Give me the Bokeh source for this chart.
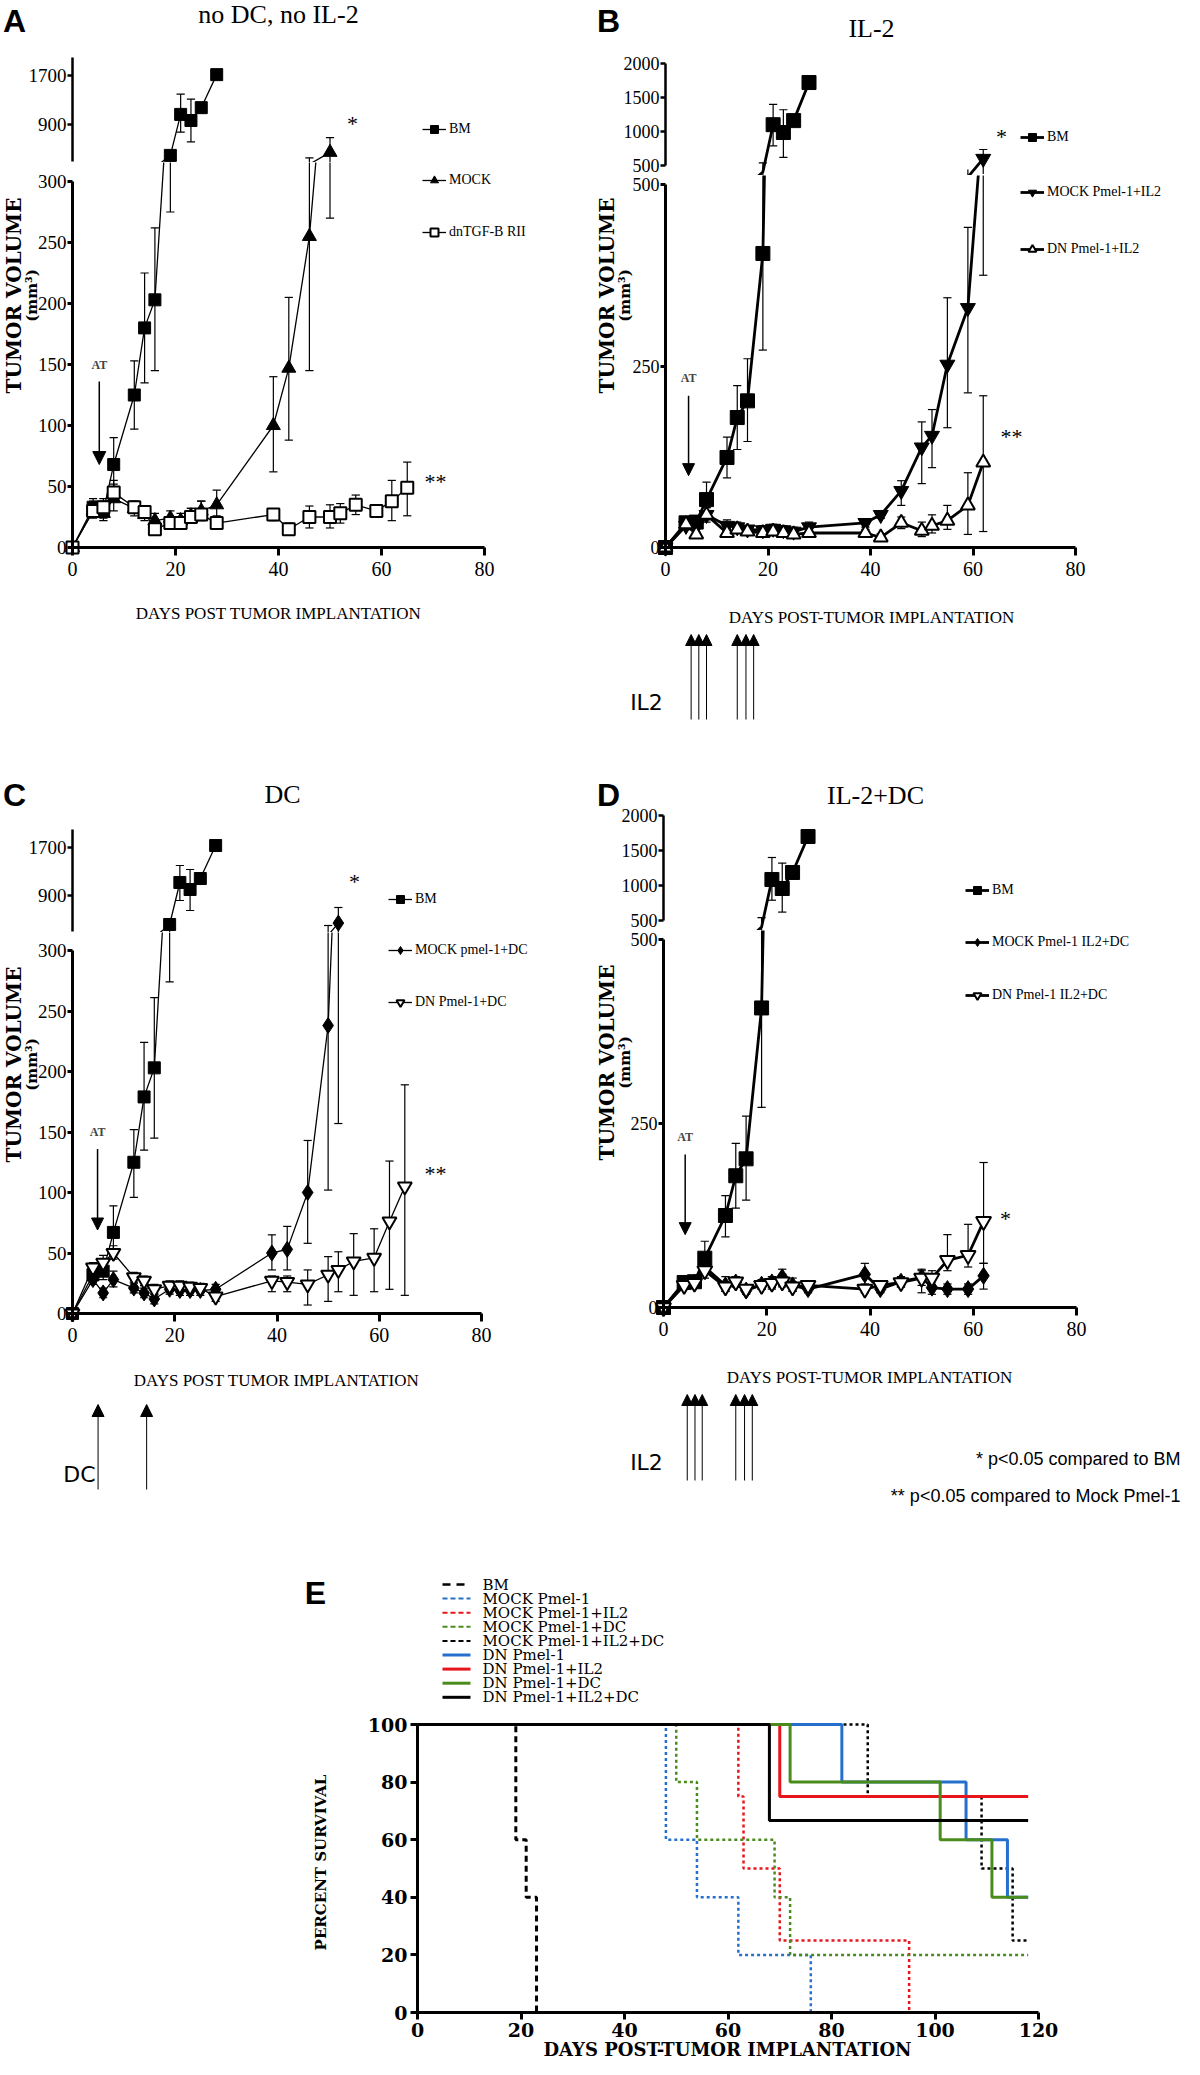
import numpy as np
from bokeh.plotting import figure
from bokeh.models import (Range1d, FixedTicker, Label, Legend, LegendItem, Arrow, NormalHead,
                          LinearAxis, ColumnDataSource)
from bokeh.layouts import row, column
from bokeh.embed import file_html
from bokeh.resources import INLINE
from bokeh.core.properties import value

SERIF = "Liberation Serif"
SANS = "Liberation Sans"
WSERIF = "DejaVu Serif"
WSANS = "DejaVu Sans"

# ===================== DATA =====================
X_TICKS = [0, 20, 40, 60, 80]
TICKS_UP_AC = [900, 1700]
TICKS_LO_AC = [0, 50, 100, 150, 200, 250, 300]
TICKS_UP_BD = [500, 1000, 1500, 2000]
TICKS_LO_BD = [0, 250, 500]

# Panel A: no DC, no IL-2
A_BM_DAYS = [0, 4, 6, 8, 12, 14, 16, 19, 21, 23, 25, 28]
A_BM_VOL = [0, 33, 30, 68, 125, 180, 203, 400, 1070, 970, 1180, 1720]
A_BM_HI = [0, 40, 38, 90, 153, 225, 262, 400, 1400, 1320, 1180, 1720]
A_BM_LO = [0, 28, 24, 50, 97, 135, 145, 275, 780, 620, 1180, 1720]
A_MOCK_DAYS = [0, 4, 6, 8, 12, 14, 16, 19, 21, 23, 25, 28, 39, 42, 46, 50]
A_MOCK_VOL = [0, 30, 28, 40, 32, 27, 22, 24, 22, 26, 30, 35, 100, 147, 255, 450]
A_MOCK_HI = [0, 38, 35, 52, 38, 32, 28, 30, 28, 32, 38, 47, 140, 205, 360, 690]
A_MOCK_LO = [0, 24, 22, 30, 26, 22, 17, 18, 17, 20, 23, 25, 62, 88, 145, 270]
A_DN_DAYS = [0, 4, 6, 8, 12, 14, 16, 19, 21, 23, 25, 28, 39, 42, 46, 50, 52, 55, 59, 62, 65]
A_DN_VOL = [0, 30, 33, 45, 33, 29, 15, 20, 20, 25, 27, 20, 27, 15, 25, 25, 28, 35, 30, 38, 49]
A_DN_HI = [0, 36, 40, 55, 37, 33, 20, 25, 25, 32, 38, 26, 31, 20, 34, 35, 36, 43, 34, 55, 70]
A_DN_LO = [0, 25, 27, 38, 28, 25, 11, 16, 16, 20, 22, 16, 22, 11, 16, 16, 20, 27, 27, 22, 26]

# Panel B: IL-2
B_BM_DAYS = [0, 4, 6, 8, 12, 14, 16, 19, 21, 23, 25, 28]
B_BM_VOL = [0, 34, 35, 66, 124, 179, 202, 405, 1100, 985, 1160, 1720]
B_BM_HI = [0, 40, 41, 90, 152, 223, 260, 540, 1400, 1320, 1160, 1720]
B_BM_LO = [0, 28, 30, 50, 96, 135, 146, 272, 790, 620, 1160, 1720]
B_MOCK_DAYS = [0, 4, 6, 8, 12, 14, 16, 19, 21, 23, 25, 28, 39, 42, 46, 50, 52, 55, 59, 62]
B_MOCK_VOL = [0, 30, 35, 45, 30, 28, 25, 24, 26, 24, 22, 28, 34, 45, 78, 138, 154, 252, 330, 600]
B_MOCK_HI = [0, 36, 40, 55, 38, 35, 30, 30, 32, 30, 28, 35, 38, 50, 92, 173, 190, 344, 441, 735]
B_MOCK_LO = [0, 25, 28, 35, 22, 20, 18, 18, 20, 18, 15, 22, 28, 40, 58, 88, 110, 165, 213, 375]
B_DN_DAYS = [0, 4, 6, 8, 12, 14, 16, 19, 21, 23, 25, 28, 39, 42, 46, 50, 52, 55, 59, 62]
B_DN_VOL = [0, 32, 18, 45, 20, 25, 22, 20, 22, 20, 18, 20, 20, 14, 34, 23, 30, 37, 58, 117]
B_DN_HI = [0, 38, 22, 55, 25, 30, 28, 25, 28, 25, 24, 26, 25, 19, 42, 35, 45, 58, 103, 209]
B_DN_LO = [0, 26, 14, 38, 15, 20, 17, 15, 17, 15, 13, 14, 15, 10, 26, 15, 20, 25, 18, 22]

# Panel C: DC
C_BM_DAYS = [0, 4, 6, 8, 12, 14, 16, 19, 21, 23, 25, 28]
C_BM_VOL = [0, 32, 35, 67, 125, 179, 203, 417, 1117, 1000, 1183, 1733]
C_BM_HI = [0, 38, 42, 89, 152, 224, 261, 417, 1400, 1333, 1183, 1733]
C_BM_LO = [0, 27, 28, 50, 96, 135, 145, 274, 817, 650, 1183, 1733]
C_MOCK_DAYS = [0, 4, 6, 8, 12, 14, 16, 19, 21, 23, 25, 28, 39, 42, 46, 50, 52]
C_MOCK_VOL = [0, 28, 17, 28, 21, 17, 12, 20, 19, 19, 19, 20, 50, 53, 100, 238, 440]
C_MOCK_HI = [0, 32, 21, 35, 25, 21, 16, 24, 23, 23, 23, 24, 65, 72, 143, 400, 700]
C_MOCK_LO = [0, 24, 13, 22, 17, 13, 8, 16, 15, 15, 15, 16, 36, 36, 58, 102, 157]
C_DN_DAYS = [0, 4, 6, 8, 12, 14, 16, 19, 21, 23, 25, 28, 39, 42, 46, 50, 52, 55, 59, 62, 65]
C_DN_VOL = [0, 38, 42, 50, 30, 27, 20, 23, 23, 22, 21, 14, 27, 26, 24, 32, 36, 43, 46, 76, 105]
C_DN_HI = [0, 42, 48, 56, 34, 31, 24, 27, 27, 26, 25, 18, 31, 31, 36, 47, 51, 66, 70, 126, 189]
C_DN_LO = [0, 34, 36, 45, 26, 23, 16, 19, 19, 18, 17, 10, 18, 18, 7, 10, 18, 15, 18, 20, 15]

# Panel D: IL-2+DC
D_BM_DAYS = [0, 4, 6, 8, 12, 14, 16, 19, 21, 23, 25, 28]
D_BM_VOL = [0, 34, 35, 67, 125, 179, 202, 407, 1086, 957, 1186, 1700]
D_BM_HI = [0, 40, 41, 90, 152, 223, 260, 540, 1400, 1320, 1186, 1700]
D_BM_LO = [0, 28, 30, 50, 96, 135, 146, 272, 790, 620, 1186, 1700]
D_MOCK_DAYS = [0, 4, 6, 8, 12, 14, 16, 19, 21, 23, 25, 28, 39, 42, 46, 50, 52, 55, 59, 62]
D_MOCK_VOL = [0, 32, 34, 55, 30, 34, 23, 31, 34, 41, 30, 25, 45, 25, 35, 41, 27, 25, 25, 43]
D_MOCK_HI = [0, 38, 40, 70, 42, 42, 30, 38, 42, 52, 40, 30, 60, 30, 42, 52, 35, 32, 32, 60]
D_MOCK_LO = [0, 28, 30, 45, 22, 28, 18, 25, 25, 30, 22, 20, 32, 20, 28, 20, 18, 18, 18, 25]
D_DN_DAYS = [0, 4, 6, 8, 12, 14, 16, 19, 21, 23, 25, 28, 39, 42, 46, 50, 52, 55, 59, 62]
D_DN_VOL = [0, 30, 33, 50, 28, 35, 25, 30, 33, 35, 28, 30, 25, 30, 34, 40, 40, 64, 71, 117]
D_DN_HI = [0, 36, 38, 65, 35, 42, 30, 36, 40, 45, 35, 36, 30, 36, 40, 50, 50, 99, 113, 197]
D_DN_LO = [0, 25, 28, 40, 22, 28, 20, 25, 27, 28, 22, 25, 20, 25, 28, 30, 30, 50, 55, 60]

# Treatment days (annotation arrows)
IL2_DAYS_B = [5, 6.5, 8, 14, 15.7, 17.2]
IL2_DAYS_D = [4.6, 6.1, 7.5, 14, 15.7, 17.2]
DC_DAYS_C = [5, 14.5]

# Panel E: Kaplan-Meier survival
E_NAMES = ["BM", "MOCK Pmel-1", "MOCK Pmel-1+IL2", "MOCK Pmel-1+DC", "MOCK Pmel-1+IL2+DC",
           "DN Pmel-1", "DN Pmel-1+IL2", "DN Pmel-1+DC", "DN Pmel-1+IL2+DC"]
E_TIMES = [[0, 19, 21, 23],
           [0, 48, 54, 62, 76],
           [0, 62, 63, 70, 95],
           [0, 50, 54, 69, 72, 118],
           [0, 87, 109, 115, 118],
           [0, 82, 106, 114, 118],
           [0, 70, 118],
           [0, 72, 101, 111, 118],
           [0, 68, 118]]
E_SURV = [[100, 60, 40, 0],
          [100, 60, 40, 20, 0],
          [100, 75, 50, 25, 0],
          [100, 80, 60, 40, 20, 20],
          [100, 75, 50, 25, 25],
          [100, 80, 60, 40, 40],
          [100, 75, 75],
          [100, 80, 60, 40, 40],
          [100, 66.7, 66.7]]
E_TICKS_X = [0, 20, 40, 60, 80, 100, 120]
E_TICKS_Y = [0, 20, 40, 60, 80, 100]

# ===================== STYLES =====================
BLUE, RED, GREEN, BLACK = "#2470cc", "#e8141c", "#4a8c1c", "#000000"
E_STYLES = [(BLACK, "6 4", 3), (BLUE, "3 3", 2.5), (RED, "3 3", 2.5), (GREEN, "3 3", 2.5),
            (BLACK, "3 3", 2.5), (BLUE, "solid", 3), (RED, "solid", 3), (GREEN, "solid", 3),
            (BLACK, "solid", 3)]
E_LEG_STYLES = [(BLACK, "8 6", 2.5), (BLUE, "5 3", 2), (RED, "5 3", 2), (GREEN, "5 3", 2),
                (BLACK, "5 3", 2), (BLUE, "solid", 3), (RED, "solid", 3), (GREEN, "solid", 3),
                (BLACK, "solid", 3)]


class Geo:
    """Canvas placement (page px) plus two anchor pixels per axis mapping to data values."""
    def __init__(self, canvas, xmap, ymap):
        self.cl, self.ct, self.cr, self.cb = canvas
        self.xm, self.ym = xmap, ymap

    def dx(self, rx):
        p0, v0, p1, v1 = self.xm
        return v0 + (rx - p0) / (p1 - p0) * (v1 - v0)

    def dy(self, ry):
        p0, v0, p1, v1 = self.ym
        return v0 + (ry - p0) / (p1 - p0) * (v1 - v0)

    def d(self, rx, ry):
        return self.dx(rx), self.dy(ry)


def mkfig(g):
    p = figure(width=g.cr - g.cl, height=g.cb - g.ct,
               x_range=Range1d(g.dx(g.cl), g.dx(g.cr)),
               y_range=Range1d(g.dy(g.cb), g.dy(g.ct)),
               min_border=0, min_border_left=0, min_border_right=0,
               min_border_top=0, min_border_bottom=0,
               x_axis_location=None, y_axis_location=None,
               output_backend="svg", toolbar_location=None, tools="")
    p.outline_line_color = None
    p.grid.visible = False
    p.grid.grid_line_color = None
    return p


def style_axis(ax, size, lw=3, tick_out=6, standoff=2, font=SERIF, bold=False):
    ax.axis_line_width = lw
    ax.axis_line_color = "black"
    ax.major_tick_line_width = lw
    ax.major_tick_line_color = "black"
    ax.major_tick_out = tick_out
    ax.major_tick_in = 0
    ax.minor_tick_line_color = None
    ax.major_label_standoff = standoff
    ax.major_label_text_font = font
    ax.major_label_text_font_size = f"{size}px"
    ax.major_label_text_font_style = "bold" if bold else "normal"
    ax.major_label_text_color = "black"


def add_axis(p, side, bounds, ticks, size, lw, tick_out, standoff, font=SERIF, bold=False):
    ax = LinearAxis(fixed_location=0, bounds=bounds, ticker=FixedTicker(ticks=ticks))
    style_axis(ax, size, lw=lw, tick_out=tick_out, standoff=standoff, font=font, bold=bold)
    p.add_layout(ax, side)
    return ax


def label(p, g, rx, ry, text, size, font=SERIF, style="normal", align="center", angle=0.0):
    x, y = g.d(rx, ry)
    p.add_layout(Label(x=x, y=y, text=text, text_font=font, text_font_size=f"{size}px",
                       text_font_style=style, text_align=align, text_baseline="middle",
                       angle=angle, text_color="black"))


def legend_item(p, g, gx, cy, text, rends, size=14):
    lg = Legend(items=[LegendItem(label=value(text), renderers=rends)],
                location=(gx - 12 - g.cl, g.cb - cy - 10),
                glyph_width=24, glyph_height=20, label_height=20, label_width=5,
                label_standoff=3, padding=0, spacing=0, margin=0,
                border_line_color=None, background_fill_alpha=0.0,
                label_text_font=SERIF, label_text_font_size=f"{size}px",
                label_text_color="black")
    p.add_layout(lg)


def draw_series(p, days, vol, hi, lo, marker, fill, size, lw, part, brk, cap=0.8):
    d = np.asarray(days, float)
    v = np.asarray(vol, float)
    h = np.asarray(hi, float)
    lo_ = np.asarray(lo, float)
    keep = (lambda a: a <= brk) if part == "lower" else (lambda a: a >= brk)
    r_line = p.line(d, v, line_color="black", line_width=lw)
    p.segment(d, lo_, d, h, line_color="black", line_width=1.2)
    for arr in (h, lo_):
        m = keep(arr)
        src = ColumnDataSource(dict(x0=d[m] - cap, x1=d[m] + cap, y=arr[m]))
        p.segment("x0", "y", "x1", "y", source=src, line_color="black", line_width=1.2)
    m = (v <= brk) if part == "lower" else (v > brk)
    r_mark = p.scatter(d[m], v[m], marker=marker, size=size, fill_color=fill,
                       line_color="black", line_width=2 if fill == "white" else 1)
    return [r_line, r_mark]


def tumor_panel(g_up, g_lo, series, brk, top, up_ticks, lo_ticks, lw, ysize):
    pu = mkfig(g_up)
    pl = mkfig(g_lo)
    ru, rl = [], []
    for s in series:
        ru.append(draw_series(pu, *s, lw, "upper", brk))
        rl.append(draw_series(pl, *s, lw, "lower", brk))
    add_axis(pu, "left", (brk, top), up_ticks, ysize, 2.5, 5, 1)
    add_axis(pl, "left", (0, brk), lo_ticks, ysize, 3, 5, 1)
    add_axis(pl, "below", (0, 80), X_TICKS, 20, 3, 8, 6)
    return pu, pl, ru, rl


def add_at(p, day, ty, y0, y1, head):
    p.add_layout(Label(x=day, y=ty, text="AT", text_font=SERIF, text_font_style="bold",
                       text_font_size="12px", text_align="center", text_baseline="middle"))
    p.add_layout(Arrow(x_start=day, y_start=y0, x_end=day, y_end=y1, line_width=1.5,
                       line_color="black",
                       end=NormalHead(size=head, fill_color="black", line_color="black")))


def treat_arrows(p, days, y_bottom, y_tip, head):
    for dd in days:
        p.add_layout(Arrow(x_start=dd, y_start=y_bottom, x_end=dd, y_end=y_tip, line_width=1,
                           line_color="black",
                           end=NormalHead(size=head, fill_color="black", line_color="black")))


def ytitle(p, g, rx1, rx2, cy):
    label(p, g, rx1, cy, "TUMOR VOLUME", 20, font=WSERIF, style="bold", angle=np.pi / 2)
    label(p, g, rx2, cy, "(mm³)", 15, font=WSERIF, style="bold", angle=np.pi / 2)


# ===================== GEOMETRY (page pixels) =====================
gA_up = Geo((8, 8, 600, 170), (80, 0, 492, 80), (169, 300, 65, 2000))
gA_lo = Geo((8, 170, 600, 745), (80, 0, 492, 80), (555, 0, 189, 300))
gB_up = Geo((600, 8, 1192, 183), (673, 0, 1083, 80), (173, 500, 71, 2000))
gB_lo = Geo((600, 183, 1192, 640), (673, 0, 1083, 80), (555, 0, 192, 500))
gB_an = Geo((600, 640, 1192, 745), (673, 0, 1083, 80), (745, 745, 640, 640))
gC_up = Geo((8, 745, 600, 940), (80, 0, 489, 80), (939, 300, 837, 2000))
gC_lo = Geo((8, 940, 600, 1400), (80, 0, 489, 80), (1321, 0, 958, 300))
gC_an = Geo((8, 1400, 600, 1515), (80, 0, 489, 80), (1515, 1515, 1400, 1400))
gD_up = Geo((600, 745, 1192, 938), (671, 0, 1084, 80), (928, 500, 823, 2000))
gD_lo = Geo((600, 938, 1192, 1397), (671, 0, 1084, 80), (1315, 0, 947, 500))
gD_an = Geo((600, 1397, 1192, 1515), (671, 0, 1084, 80), (1515, 1515, 1397, 1397))
gE_leg = Geo((8, 1515, 1192, 1719), (8, 8, 1192, 1192), (1719, 1719, 1515, 1515))
gE = Geo((8, 1719, 1192, 2067), (425, 0, 1046, 120), (2020, 0, 1732, 100))

# ===================== PANEL A =====================
A_series = [(A_BM_DAYS, A_BM_VOL, A_BM_HI, A_BM_LO, "square", "black", 12),
            (A_MOCK_DAYS, A_MOCK_VOL, A_MOCK_HI, A_MOCK_LO, "triangle", "black", 14),
            (A_DN_DAYS, A_DN_VOL, A_DN_HI, A_DN_LO, "square", "white", 12)]
upA, loA, ruA, rlA = tumor_panel(gA_up, gA_lo, A_series, 300, 2000, TICKS_UP_AC, TICKS_LO_AC, 1.3, 19)
label(upA, gA_up, 22, 28, "A", 32, font=SANS, style="bold")
label(upA, gA_up, 286, 22, "no DC, no IL-2", 26)
label(upA, gA_up, 360, 131, "*", 22)
legend_item(upA, gA_up, 442, 137, "BM", ruA[0])
legend_item(loA, gA_lo, 442, 188, "MOCK", rlA[1])
legend_item(loA, gA_lo, 442, 240, "dnTGF-B RII", rlA[2])
ytitle(loA, gA_lo, 21, 39, 303)
label(loA, gA_lo, 443, 489, "**", 22)
label(loA, gA_lo, 286, 621, "DAYS POST TUMOR IMPLANTATION", 17)
add_at(loA, 5.2, 150, 136, 68, 13)

# ===================== PANEL B =====================
B_series = [(B_BM_DAYS, B_BM_VOL, B_BM_HI, B_BM_LO, "square", "black", 14),
            (B_MOCK_DAYS, B_MOCK_VOL, B_MOCK_HI, B_MOCK_LO, "inverted_triangle", "black", 15),
            (B_DN_DAYS, B_DN_VOL, B_DN_HI, B_DN_LO, "triangle", "white", 14)]
upB, loB, ruB, rlB = tumor_panel(gB_up, gB_lo, B_series, 500, 2000, TICKS_UP_BD, TICKS_LO_BD, 2.8, 18)
label(upB, gB_up, 616, 28, "B", 32, font=SANS, style="bold")
label(upB, gB_up, 879, 36, "IL-2", 26)
label(upB, gB_up, 1009, 144, "*", 22)
legend_item(upB, gB_up, 1040, 145, "BM", ruB[0])
legend_item(loB, gB_lo, 1040, 200, "MOCK Pmel-1+IL2", rlB[1])
legend_item(loB, gB_lo, 1040, 257, "DN Pmel-1+IL2", rlB[2])
ytitle(loB, gB_lo, 614, 632, 303)
label(loB, gB_lo, 1019, 444, "**", 22)
label(loB, gB_lo, 879, 625, "DAYS POST-TUMOR IMPLANTATION", 17)
add_at(loB, 4.5, 234, 209, 99, 12)
anB = mkfig(gB_an)
treat_arrows(anB, IL2_DAYS_B, 727, 642, 11)
label(anB, gB_an, 654, 710, "IL2", 22, font=WSANS)

# ===================== PANEL C =====================
C_series = [(C_BM_DAYS, C_BM_VOL, C_BM_HI, C_BM_LO, "square", "black", 12),
            (C_MOCK_DAYS, C_MOCK_VOL, C_MOCK_HI, C_MOCK_LO, "diamond", "black", 16),
            (C_DN_DAYS, C_DN_VOL, C_DN_HI, C_DN_LO, "inverted_triangle", "white", 14)]
upC, loC, ruC, rlC = tumor_panel(gC_up, gC_lo, C_series, 300, 2000, TICKS_UP_AC, TICKS_LO_AC, 1.3, 19)
label(upC, gC_up, 22, 802, "C", 32, font=SANS, style="bold")
label(upC, gC_up, 290, 802, "DC", 26)
label(upC, gC_up, 362, 889, "*", 22)
legend_item(upC, gC_up, 408, 907, "BM", ruC[0])
legend_item(loC, gC_lo, 408, 958, "MOCK pmel-1+DC", rlC[1])
legend_item(loC, gC_lo, 408, 1010, "DN Pmel-1+DC", rlC[2])
ytitle(loC, gC_lo, 21, 39, 1072)
label(loC, gC_lo, 443, 1181, "**", 22)
label(loC, gC_lo, 284, 1388, "DAYS POST TUMOR IMPLANTATION", 17)
add_at(loC, 4.9, 150, 136, 69, 12)
anC = mkfig(gC_an)
treat_arrows(anC, DC_DAYS_C, 1497, 1412, 12)
label(anC, gC_an, 87, 1482, "DC", 22, font=WSANS)

# ===================== PANEL D =====================
D_series = [(D_BM_DAYS, D_BM_VOL, D_BM_HI, D_BM_LO, "square", "black", 14),
            (D_MOCK_DAYS, D_MOCK_VOL, D_MOCK_HI, D_MOCK_LO, "diamond", "black", 17),
            (D_DN_DAYS, D_DN_VOL, D_DN_HI, D_DN_LO, "inverted_triangle", "white", 15)]
upD, loD, ruD, rlD = tumor_panel(gD_up, gD_lo, D_series, 500, 2000, TICKS_UP_BD, TICKS_LO_BD, 2.8, 18)
label(upD, gD_up, 616, 802, "D", 32, font=SANS, style="bold")
label(upD, gD_up, 883, 803, "IL-2+DC", 26)
legend_item(upD, gD_up, 985, 898, "BM", ruD[0])
legend_item(loD, gD_lo, 985, 950, "MOCK Pmel-1 IL2+DC", rlD[1])
legend_item(loD, gD_lo, 985, 1003, "DN Pmel-1 IL2+DC", rlD[2])
ytitle(loD, gD_lo, 614, 632, 1070)
label(loD, gD_lo, 1013, 1226, "*", 22)
label(loD, gD_lo, 877, 1385, "DAYS POST-TUMOR IMPLANTATION", 17)
add_at(loD, 4.2, 232, 208, 99, 12)
anD = mkfig(gD_an)
treat_arrows(anD, IL2_DAYS_D, 1488, 1402, 11)
label(anD, gD_an, 654, 1470, "IL2", 22, font=WSANS)
label(anD, gD_an, 1188, 1466, "* p<0.05 compared to BM", 18, font=SANS, align="right")
label(anD, gD_an, 1188, 1503, "** p<0.05 compared to Mock Pmel-1", 18, font=SANS, align="right")

# ===================== PANEL E =====================
legE = mkfig(gE_leg)
label(legE, gE_leg, 323, 1600, "E", 32, font=SANS, style="bold")
for i, (name, (col, dash, w)) in enumerate(zip(E_NAMES, E_LEG_STYLES)):
    yy = 1592 + 14.1 * i
    legE.line([450, 478], [yy, yy], line_color=col, line_dash=dash, line_width=w)
    label(legE, gE_leg, 490, yy, name, 15, font=WSERIF, align="left")

pE = mkfig(gE)
for t, s, (col, dash, w) in zip(E_TIMES, E_SURV, E_STYLES):
    pE.step(t, s, mode="after", line_color=col, line_dash=dash, line_width=w)
add_axis(pE, "below", (0, 120), E_TICKS_X, 19, 3, 7, 3, font=WSERIF, bold=True)
add_axis(pE, "left", (0, 100), E_TICKS_Y, 19, 3, 7, 3, font=WSERIF, bold=True)
label(pE, gE, 328, 1870, "PERCENT SURVIVAL", 15, font=WSERIF, style="bold", angle=np.pi / 2)
label(pE, gE, 735, 2057, "DAYS POST-TUMOR IMPLANTATION", 18, font=WSERIF, style="bold")

# ===================== LAYOUT =====================
layout = column(
    row(column(upA, loA), column(upB, loB, anB)),
    row(column(upC, loC, anC), column(upD, loD, anD)),
    legE,
    pE,
)

with open("out.html", "w") as f:
    f.write(file_html(layout, INLINE, title="Tumor volume and survival"))
